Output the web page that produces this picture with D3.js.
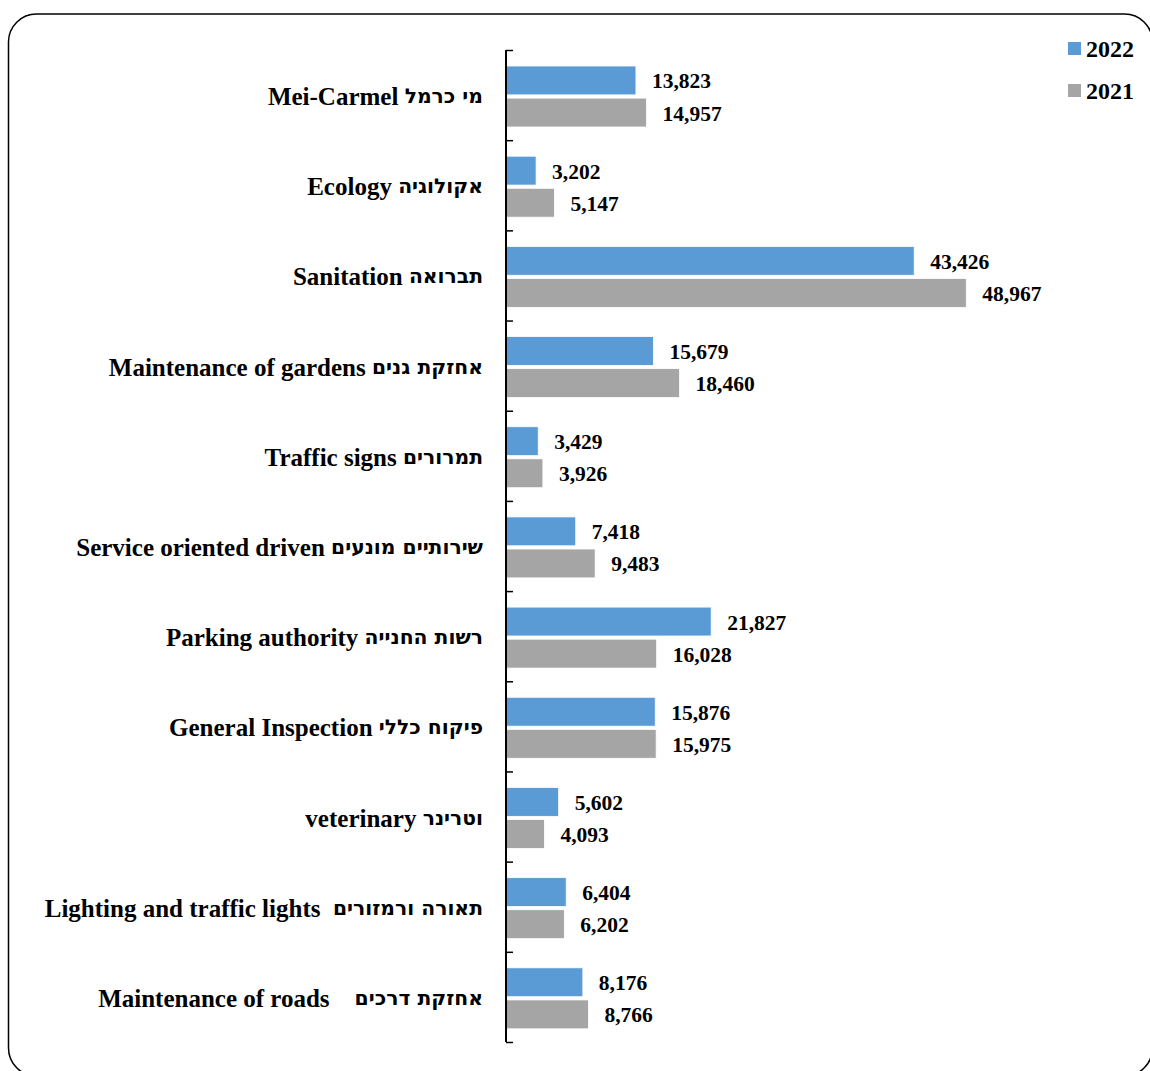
<!DOCTYPE html>
<html><head>
<meta charset="utf-8">
<script src="https://d3js.org/d3.v7.min.js"></script>
<style>
  body { margin: 0; background: #fff; }
  text { font-family: "Liberation Serif", "Times New Roman", serif; font-weight: bold; fill: #000; }
  tspan.he { font-family: "DejaVu Sans", "Liberation Sans", sans-serif; font-weight: bold; }
</style>
</head>
<body>
<div id="chart"></div>
<script>
  // categories: english part, hebrew part (gap = spaces between)
  var catEn = ["Mei-Carmel", "Ecology", "Sanitation", "Maintenance of gardens", "Traffic signs",
               "Service oriented driven", "Parking authority", "General Inspection", "veterinary",
               "Lighting and traffic lights", "Maintenance of roads"];
  var catHe = ["מי כרמל", "אקולוגיה", "תברואה", "אחזקת גנים", "תמרורים",
               "שירותיים מונעים", "רשות החנייה", "פיקוח כללי", "וטרינר",
               "תאורה ורמזורים", "אחזקת דרכים"];
  var catGap = [1, 1, 1, 1, 1, 1, 1, 1, 1, 2, 4];
  var series = ["2022", "2021"];
  var values2022 = [13823, 3202, 43426, 15679, 3429, 7418, 21827, 15876, 5602, 6404, 8176];
  var values2021 = [14957, 5147, 48967, 18460, 3926, 9483, 16028, 15975, 4093, 6202, 8766];
  var colors = ["#5b9bd5", "#a5a5a5"];

  var W = 1150, H = 1071;
  var svg = d3.select("#chart").append("svg").attr("width", W).attr("height", H);

  // outer frame
  svg.append("rect")
     .attr("x", 8.5).attr("y", 14).attr("width", 1144).attr("height", 1062)
     .attr("rx", 28).attr("ry", 28)
     .attr("fill", "none").attr("stroke", "#000").attr("stroke-width", 1.5);

  var axisX = 506, yTop = 50, yBottom = 1042;

  var x = d3.scaleLinear().domain([0, 50000]).range([axisX, 976]);
  var y = d3.scaleBand().domain(d3.range(catEn.length)).range([yTop, yBottom]);
  var inner = d3.scaleBand().domain(series).range([16, 77]).paddingInner(0.1);

  var fmt = d3.format(",");

  var rows = catEn.map(function(d, i) {
    return { i: i, vals: [values2022[i], values2021[i]] };
  });

  var g = svg.selectAll("g.row").data(rows).enter().append("g")
     .attr("class", "row")
     .attr("transform", function(d) { return "translate(0," + y(d.i) + ")"; });

  g.selectAll("rect")
   .data(function(d) { return d.vals.map(function(v, k) { return { v: v, k: k }; }); })
   .enter().append("rect")
     .attr("x", x(0))
     .attr("y", function(d) { return inner(series[d.k]); })
     .attr("width", function(d) { return x(d.v) - x(0); })
     .attr("height", inner.bandwidth())
     .attr("fill", function(d) { return colors[d.k]; })
     .attr("stroke", "#fff").attr("stroke-width", 0.8);

  g.selectAll("text.val")
   .data(function(d) { return d.vals.map(function(v, k) { return { v: v, k: k }; }); })
   .enter().append("text")
     .attr("class", "val")
     .attr("x", function(d) { return x(d.v) + 16; })
     .attr("y", function(d) { return inner(series[d.k]) + inner.bandwidth() / 2 + 1; })
     .attr("dominant-baseline", "central")
     .style("font-size", "21.5px")
     .text(function(d) { return fmt(d.v); });

  // category labels
  var lab = svg.selectAll("text.cat").data(rows).enter().append("text")
     .attr("class", "cat")
     .attr("x", 483)
     .attr("y", function(d) { return y(d.i) + y.bandwidth() / 2 + 1; })
     .attr("text-anchor", "end")
     .attr("dominant-baseline", "central")
     .style("font-size", "25px")
     .style("white-space", "pre");
  lab.append("tspan").text(function(d) { return catEn[d.i] + " ".repeat(catGap[d.i]); });
  lab.append("tspan")
     .attr("class", "he")
     .style("font-size", "20.3px")
     .text(function(d) { return catHe[d.i]; });

  // axis (ticks pointing inward)
  var tickScale = d3.scaleLinear().domain([0, catEn.length]).range([yTop, yBottom]);
  var axis = d3.axisRight(tickScale).ticks(catEn.length).tickSize(7).tickFormat("");
  svg.append("g")
     .attr("transform", "translate(" + axisX + ",0)")
     .call(axis)
     .call(function(s) {
       s.select(".domain").attr("stroke-width", 2).attr("d", "M0," + yTop + "V" + yBottom);
       s.selectAll(".tick line").attr("stroke-width", 1.5);
     });

  // legend
  var leg = svg.selectAll("g.leg").data(series).enter().append("g")
     .attr("class", "leg")
     .attr("transform", function(d, i) { return "translate(1068," + (42 + i * 42) + ")"; });
  leg.append("rect").attr("width", 13).attr("height", 13)
     .attr("fill", function(d, i) { return colors[i]; });
  leg.append("text").attr("x", 18).attr("y", 7).attr("dominant-baseline", "central")
     .style("font-size", "24px").text(function(d) { return d; });
</script>
</body></html>
